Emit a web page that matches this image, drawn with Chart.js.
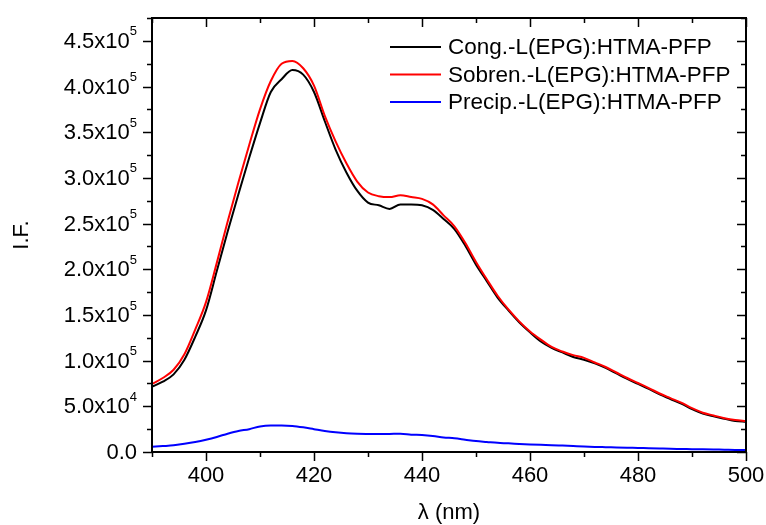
<!DOCTYPE html>
<html>
<head>
    <title>I.F. vs lambda</title>
    <script src="https://cdn.jsdelivr.net/npm/chart.js"></script>
    <style>
        body { margin: 0; background: #fff; }
    </style>
</head>
<body>
    <canvas id="spectraChart" width="766" height="525"></canvas>

    <script>
    // wavelength, nm (step 2)
    const wavelengths = [390,392,394,396,398,400,402,404,406,408,410,412,414,416,418,420,422,424,426,428,
        430,432,434,436,438,440,442,444,446,448,450,452,454,456,458,460,462,464,466,468,
        470,472,474,476,478,480,482,484,486,488,490,492,494,496,498,500];

    const congValues = [71500,77000,85000,101000,126000,155000,198000,241000,282000,322000,
        360000,394000,408000,418000,413000,394000,362000,331000,306000,286000,
        273000,270000,266000,271000,271000,270000,265000,255000,244000,226000,
        205000,187000,169000,155000,142000,131000,121000,114000,109000,104000,
        101000,97000,92000,86000,80000,74500,69000,63000,58000,53000,
        47000,42000,39000,36500,34000,33000];

    const sobrenValues = [74500,81000,90000,107000,134000,164000,207000,252000,295000,336000,
        375000,406000,425000,428000,420000,401000,368000,340000,316000,296000,
        284000,280000,279000,281000,279000,277000,271000,259000,247000,229000,
        208000,189000,171000,156000,143000,132000,123000,115000,110000,106000,
        103000,98000,93000,87000,81000,75500,70000,64000,59000,54000,
        48000,43000,40000,37000,35000,34000];

    const precipValues = [5800,6500,7300,9000,11000,13500,16500,20000,23000,25000,
        28000,29000,29000,28500,27000,25000,23000,21500,20500,20000,
        19800,19700,19800,20000,19000,18500,17500,16000,15000,13500,
        12000,11000,10000,9500,8800,8200,7800,7500,7000,6500,
        6000,5600,5300,5000,4700,4400,4100,3800,3500,3300,
        3100,2900,2700,2500,2300,2200];

    const seriesNames = ['Cong.-L(EPG):HTMA-PFP', 'Sobren.-L(EPG):HTMA-PFP', 'Precip.-L(EPG):HTMA-PFP'];
    const seriesColors = ['#000000', '#ff0000', '#0000ff'];
    const xTickLabels = [400, 420, 440, 460, 480, 500];
    const yTickLabels = ['0.0', '5.0x10|4', '1.0x10|5', '1.5x10|5', '2.0x10|5', '2.5x10|5',
        '3.0x10|5', '3.5x10|5', '4.0x10|5', '4.5x10|5'];

    const FONT = '"Liberation Sans", Arial, sans-serif';

    function toPoints(vals) {
        return vals.map((v, i) => ({ x: wavelengths[i], y: v }));
    }

    // frame, ticks on all four sides, tick labels, legend, titles
    const framePlugin = {
        id: 'frame',
        afterDraw(chart) {
            const ctx = chart.ctx;
            const a = chart.chartArea;
            const xs = chart.scales.x, ys = chart.scales.y;
            ctx.save();
            ctx.strokeStyle = '#000';
            ctx.lineWidth = 2;
            ctx.strokeRect(a.left, a.top, a.right - a.left, a.bottom - a.top);

            ctx.lineWidth = 1.5;
            ctx.beginPath();
            for (let v = 0; v <= 475000; v += 25000) {
                const py = Math.round(ys.getPixelForValue(v)) + 0.5;
                const len = (v % 50000 === 0) ? 9 : 5;
                ctx.moveTo(a.left, py); ctx.lineTo(a.left - len, py);
                ctx.moveTo(a.right, py); ctx.lineTo(a.right - len, py);
            }
            for (let v = 390; v <= 500; v += 10) {
                const px = Math.round(xs.getPixelForValue(v)) + 0.5;
                const len = (v % 20 === 0) ? 9 : 5;
                ctx.moveTo(px, a.bottom); ctx.lineTo(px, a.bottom + len);
                ctx.moveTo(px, a.top); ctx.lineTo(px, a.top + len);
            }
            ctx.stroke();

            ctx.fillStyle = '#000';
            ctx.textBaseline = 'middle';

            // x tick labels
            ctx.font = '22px ' + FONT;
            ctx.textAlign = 'center';
            xTickLabels.forEach(v => {
                ctx.fillText(String(v), xs.getPixelForValue(v), a.bottom + 24);
            });

            // y tick labels
            yTickLabels.forEach((lab, i) => {
                const py = ys.getPixelForValue(i * 50000) + 1;
                const parts = lab.split('|');
                const rightEdge = a.left - 15;
                let supW = 0;
                if (parts.length > 1) {
                    ctx.font = '13px ' + FONT;
                    supW = ctx.measureText(parts[1]).width;
                    ctx.textAlign = 'right';
                    ctx.fillText(parts[1], rightEdge, py - 10);
                }
                ctx.font = '22px ' + FONT;
                ctx.textAlign = 'right';
                ctx.fillText(parts[0], rightEdge - supW, py);
            });

            // legend
            ctx.font = '22.5px ' + FONT;
            ctx.textAlign = 'left';
            seriesNames.forEach((name, i) => {
                const ly = 47 + i * 27.5;
                ctx.strokeStyle = seriesColors[i];
                ctx.lineWidth = 2;
                ctx.beginPath();
                ctx.moveTo(390, ly); ctx.lineTo(441, ly);
                ctx.stroke();
                ctx.fillText(name, 448, ly + 1);
            });

            // axis titles
            ctx.font = '22px ' + FONT;
            ctx.textAlign = 'center';
            ctx.fillText('\u03bb (nm)', (a.left + a.right) / 2, 513);
            ctx.translate(22, (a.top + a.bottom) / 2);
            ctx.rotate(-Math.PI / 2);
            ctx.fillText('I.F.', 0, 0);
            ctx.restore();
        }
    };

    new Chart(document.getElementById('spectraChart'), {
        type: 'line',
        data: {
            datasets: [
                { label: seriesNames[0], data: toPoints(congValues), borderColor: seriesColors[0], order: 2 },
                { label: seriesNames[1], data: toPoints(sobrenValues), borderColor: seriesColors[1], order: 1 },
                { label: seriesNames[2], data: toPoints(precipValues), borderColor: seriesColors[2], order: 3 }
            ]
        },
        options: {
            responsive: false,
            animation: false,
            layout: { padding: { left: 0, right: 20, top: 18, bottom: 0 } },
            elements: {
                line: { borderWidth: 2, cubicInterpolationMode: 'monotone' },
                point: { radius: 0 }
            },
            plugins: {
                legend: { display: false },
                tooltip: { enabled: false }
            },
            scales: {
                x: {
                    type: 'linear',
                    min: 390,
                    max: 500,
                    grid: { display: false, drawTicks: false },
                    border: { display: false },
                    ticks: { display: false },
                    afterFit: s => { s.height = 73; }
                },
                y: {
                    min: 0,
                    max: 475000,
                    grid: { display: false, drawTicks: false },
                    border: { display: false },
                    ticks: { display: false },
                    afterFit: s => { s.width = 152; }
                }
            }
        },
        plugins: [framePlugin]
    });
    </script>
</body>
</html>
